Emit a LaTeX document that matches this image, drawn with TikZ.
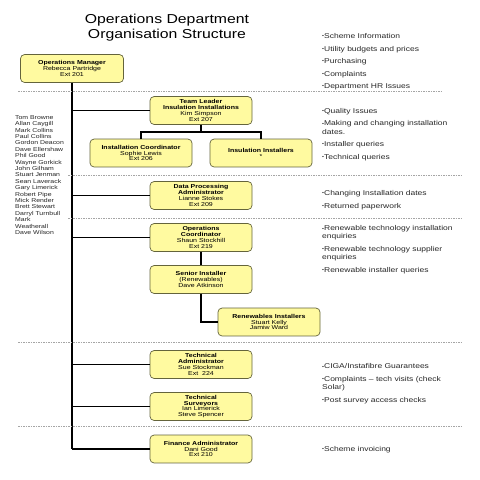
\documentclass[tikz,border=0pt]{standalone}
\usepackage{fontspec}
\setmainfont{Liberation Sans}

\definecolor{boxfill}{RGB}{255,250,160}
\definecolor{boxline}{RGB}{100,100,60}
\definecolor{sepgray}{RGB}{165,165,165}
\newcommand{\bul}{\raisebox{0.8pt}{\fontsize{5.5}{5.5}\selectfont\textbullet}}

\tikzset{
  post/.style={draw=boxline, fill=boxfill, rounded corners=4pt, line width=0.7pt,
    minimum width=102pt, minimum height=34pt, inner sep=1pt, align=center,
    font=\fontsize{7}{7.2}\selectfont},
  link/.style={line width=1.6pt},
  sep/.style={draw=sepgray, line width=0.6pt, dash pattern=on 1.5pt off 1pt},
  % base anchor of a multi-line node sits on its last line
  duty/.style={anchor=base west, align=left, inner sep=0pt,
    font=\fontsize{8.5}{10}\selectfont, text=black!85},
  heading/.style={font=\fontsize{15.8}{18}\selectfont},
}

\begin{document}
\begin{tikzpicture}[x=1pt, y=-1.2195pt, yscale=0.82,
    every node/.append style={transform shape}]
    \useasboundingbox (0,0) rectangle (480,480);

    % title
    \node[heading] (title1) at (167,20) {Operations Department};
    \node[heading] (title2) at (167,35) {Organisation Structure};

    % posts
    \node[post, minimum width=103pt] (om) at (72,68.5)
        {\textbf{Operations Manager}\\Rebecca Partridge\\Ext 201};
    \node[post] (tl) at (201,110.5)
        {\textbf{Team Leader}\\\textbf{Insulation Installations}\\Kim Simpson\\Ext 207};
    \node[post] (ic) at (141,153)
        {\textbf{Installation Coordinator}\\Sophie Lewis\\Ext 206};
    \node[post] (ii) at (261,153)
        {\textbf{Insulation Installers}\\*};
    \node[post] (dp) at (201,195.5)
        {\textbf{Data Processing}\\\textbf{Administrator}\\Lianne Stokes\\Ext 209};
    \node[post] (oc) at (201,237.5)
        {\textbf{Operations}\\\textbf{Coordinator}\\Shaun Stockhill\\Ext 219};
    \node[post] (si) at (201,279.5)
        {\textbf{Senior Installer}\\(Renewables)\\Dave Atkinson};
    \node[post] (ri) at (269,322)
        {\textbf{Renewables Installers}\\Stuart Kelly\\Jamiw Ward};
    \node[post] (ta) at (201,364.5)
        {\textbf{Technical}\\\textbf{Administrator}\\Sue Stockman\\Ext~~224};
    \node[post] (ts) at (201,406.5)
        {\textbf{Technical}\\\textbf{Surveyors}\\Ian Limerick\\Steve Spencer};
    \node[post] (fa) at (201,449)
        {\textbf{Finance Administrator}\\Dani Good\\Ext 210};

    % trunk and branches
    \draw[link, line width=2pt] (om.south) -- (om.south |- fa.west);
    \draw[link] (om.south |- tl.west) -- (tl.west);
    \draw[link] (om.south |- dp.west) -- (dp.west);
    \draw[link] (om.south |- oc.west) -- (oc.west);
    \draw[link] (om.south |- ta.west) -- (ta.west);
    \draw[link] (om.south |- ts.west) -- (ts.west);
    \draw[link] (om.south |- fa.west) -- (fa.west);

    \coordinate (split) at (201,132);
    \draw[link] (tl.south) -- (split);
    \draw[link] (ic.north) |- (split) -| (ii.north);
    \draw[link] (oc.south) -- (si.north);
    \draw[link] (si.south) |- (ri.west);

    % separators
    \draw[sep] (18,91.5) -- (443,91.5);
    \draw[sep] (68,175) -- (462,175);
    \draw[sep] (68,218) -- (462,218);
    \draw[sep] (18,342) -- (462,342);
    \draw[sep] (18,426) -- (462,426);

    % installers
    \node[anchor=base west, align=left, inner sep=0pt, text=black!85,
          font=\fontsize{6.9}{7.8}\selectfont] (crew) at (15,234.5)
        {Tom Browne\\Allan Caygill\\Mark Collins\\Paul Collins\\Gordon Deacon\\
         Dave Ellershaw\\Phil Good\\Wayne Gorkick\\John Gilham\\Stuart Jenman\\
         Sean Laverack\\Gary Limerick\\Robert Pipe\\Mick Render\\Brett Stewart\\
         Darryl Turnbull\\Mark\\Weatherall\\Dave Wilson};

    % duties
    \node[duty] (d1) at (322,88.5)
        {\bul Scheme Information\\[5.2pt]\bul Utility budgets and prices\\[5.2pt]
         \bul Purchasing\\[5.2pt]\bul Complaints\\[5.2pt]\bul Department HR Issues};
    \node[duty] (d2) at (322,159)
        {\bul Quality Issues\\[5.2pt]\bul Making and changing installation\\dates.\\[5.2pt]
         \bul Installer queries\\[5.2pt]\bul Technical queries};
    \node[duty] (d3) at (322,208)
        {\bul Changing Installation dates\\[5.2pt]\bul Returned paperwork};
    \node[duty] (d4) at (322,272)
        {\bul Renewable technology installation\\enquiries\\[5.2pt]
         \bul Renewable technology supplier\\enquiries\\[5.2pt]
         \bul Renewable installer queries};
    \node[duty] (d5) at (322,402)
        {\bul CIGA/Instafibre Guarantees\\[5.2pt]\bul Complaints -- tech visits (check\\Solar)\\[5.2pt]
         \bul Post survey access checks};
    \node[duty] (d6) at (322,451) {\bul Scheme invoicing};
\end{tikzpicture}
\end{document}
